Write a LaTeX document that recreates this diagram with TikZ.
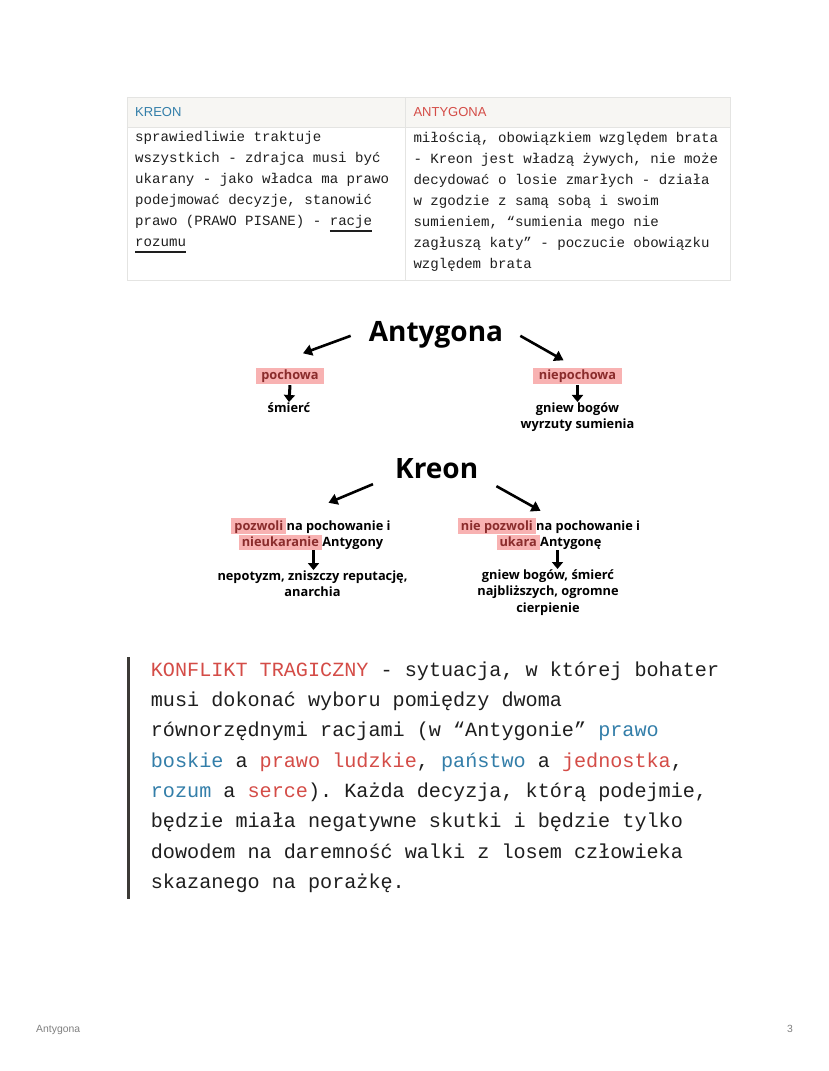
\documentclass[tikz,border=0pt]{standalone}
\usepackage{fontspec}
\setmainfont{Liberation Sans}
\newfontfamily\monofont{Liberation Mono}
\newfontfamily\boldsans{Open Sans}
\usetikzlibrary{arrows.meta}
\frenchspacing

\definecolor{notionred}{RGB}{212,76,71}
\definecolor{notionblue}{RGB}{51,126,169}
\definecolor{headgray}{RGB}{247,246,243}
\definecolor{gridgray}{RGB}{228,228,226}
\definecolor{hlpink}{RGB}{248,178,178}
\definecolor{hltext}{RGB}{138,44,44}
\definecolor{quotebar}{RGB}{60,58,54}
\definecolor{inktext}{RGB}{30,30,30}

% marker highlight behind a word, and a low underline
\newcommand\hlmark[1]{\setbox0\hbox{#1}\rlap{\kern-3pt\color{hlpink}\rule[-3.5pt]{\dimexpr\wd0+6pt\relax}{15.5pt}}\textcolor{hltext}{#1}}
\newcommand\rulebelow[1]{\setbox0\hbox{#1}\rlap{\rule[-6pt]{\wd0}{1.4pt}}\box0}

\tikzset{
  celltext/.style={font=\monofont\fontsize{14.1}{21}\selectfont, text=inktext, align=left, inner sep=0pt, anchor=base west},
  quotetext/.style={font=\monofont\fontsize{20.15}{30.3}\selectfont, text=inktext, align=left, inner sep=0pt, anchor=base west},
  headtext/.style={font=\fontsize{13}{15}\selectfont, inner sep=0pt, anchor=base west},
  bigtitle/.style={font=\boldsans\bfseries\fontsize{28}{32}\selectfont, text=black, inner sep=0pt, anchor=base},
  choice/.style={font=\boldsans\bfseries\fontsize{12.8}{16.5}\selectfont, text=black, inner sep=0pt, align=center, anchor=base},
  hlbox/.style={choice, fill=hlpink, text=hltext, inner xsep=5.5pt, inner ysep=2.5pt, text height=9pt, text depth=2.5pt},
  bigarrow/.style={-{Triangle[length=9pt,width=11pt]}, line width=2.6pt},
  downarrow/.style={-{Triangle[length=7pt,width=11pt]}, line width=3pt},
  footer/.style={font=\fontsize{10.4}{12}\selectfont, text=gray, inner sep=0pt}
}

\begin{document}
\begin{tikzpicture}[x=1pt,y=-1pt]
    \fill[white] (0,0) rectangle (828,1071);
    \useasboundingbox (0,0) rectangle (828,1071);

    % table
    \fill[headgray] (127,97.5) rectangle (730,127);
    \draw[gridgray, line width=1pt] (127,97.5) rectangle (730,280.5);
    \draw[gridgray, line width=1pt] (127,127) -- (730,127);
    \draw[gridgray, line width=1pt] (405.5,97.5) -- (405.5,280.5);

    \node[headtext, text=notionblue] (kreonhead) at (135,116.7) {KREON};
    \node[headtext, text=notionred] (antyhead) at (413.3,116.7) {ANTYGONA};

    \node[celltext] (kreoncell) at (135,246.7) {sprawiedliwie traktuje\\wszystkich - zdrajca musi być\\ukarany - jako władca ma prawo\\podejmować decyzje, stanowić\\prawo (PRAWO PISANE) - \rulebelow{racje}\\\rulebelow{rozumu}};
    \node[celltext] (antycell) at (413.3,268) {miłością, obowiązkiem względem brata\\- Kreon jest władzą żywych, nie może\\decydować o losie zmarłych - działa\\w zgodzie z samą sobą i swoim\\sumieniem, “sumienia mego nie\\zagłuszą katy” - poczucie obowiązku\\względem brata};

    % Antygona
    \node[bigtitle] (antygona) at (436,341.5) {Antygona};
    \node[hlbox] (pochowa) at (290,379) {pochowa};
    \node[hlbox] (niepochowa) at (577.5,379) {niepochowa};
    \node[choice] (smierc) at (289,412) {śmierć};
    \node[choice] (gniew) at (577.5,428.5) {gniew bogów\\wyrzuty sumienia};

    \draw[bigarrow] ([shift={(-18,1)}]antygona.west) -- ([shift={(13,-14)}]pochowa.north);
    \draw[bigarrow] ([shift={(17,1)}]antygona.east) -- ([shift={(-14,-7)}]niepochowa.north);
    \draw[downarrow] ([shift={(0,1)}]pochowa.south) -- (smierc.north);
    \draw[downarrow] ([shift={(0,1)}]niepochowa.south) -- (gniew.north);

    % Kreon
    \node[bigtitle] (kreon) at (436.7,478) {Kreon};
    \node[choice] (pozwoli) at (312.5,546.5) {\hlmark{pozwoli} na pochowanie i\\\hlmark{nieukaranie} Antygony};
    \node[choice] (niepozwoli) at (550.5,546.5) {\hlmark{nie pozwoli} na pochowanie i\\\hlmark{ukara} Antygonę};
    \node[choice] (skutkiL) at (312.5,596.5) {nepotyzm, zniszczy reputację,\\anarchia};
    \node[choice] (skutkiR) at (548,612) {gniew bogów, śmierć\\najbliższych, ogromne\\cierpienie};

    \draw[bigarrow] ([shift={(-22,16)}]kreon.west) -- ([shift={(16,-15)}]pozwoli.north);
    \draw[bigarrow] ([shift={(18,18)}]kreon.east) -- ([shift={(-10,-7)}]niepozwoli.north);
    \draw[downarrow] ([shift={(1,0)}]pozwoli.south) -- ([shift={(1,0)}]pozwoli.south |- skutkiL.north);
    \draw[downarrow] ([shift={(7,0)}]niepozwoli.south) -- ([shift={(7,0)}]niepozwoli.south |- skutkiR.north);

    % konflikt tragiczny
    \fill[quotebar] (126.5,656.5) rectangle (130,898.5);
    \node[quotetext] (konflikt) at (150.7,888.3) {\textcolor{notionred}{KONFLIKT TRAGICZNY} - sytuacja, w której bohater\\musi dokonać wyboru pomiędzy dwoma\\równorzędnymi racjami (w “Antygonie” \textcolor{notionblue}{prawo}\\\textcolor{notionblue}{boskie} a \textcolor{notionred}{prawo ludzkie}, \textcolor{notionblue}{państwo} a \textcolor{notionred}{jednostka},\\\textcolor{notionblue}{rozum} a \textcolor{notionred}{serce}). Każda decyzja, którą podejmie,\\będzie miała negatywne skutki i będzie tylko\\dowodem na daremność walki z losem człowieka\\skazanego na porażkę.};

    % footer
    \node[footer, anchor=base west] (footleft) at (36,1032) {Antygona};
    \node[footer, anchor=base east] (footpage) at (793,1032) {3};
\end{tikzpicture}
\end{document}
